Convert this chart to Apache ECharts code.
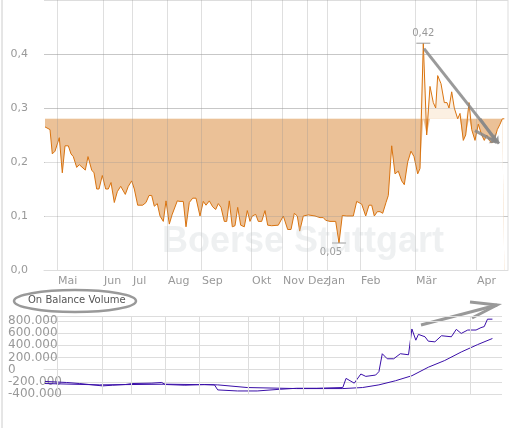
<!DOCTYPE html>
<html><head><meta charset="utf-8">
<script src="https://cdn.jsdelivr.net/npm/echarts@6/dist/echarts.min.js"></script>
<style>html,body{margin:0;padding:0;background:#fff}#chart{width:530px;height:428px}</style>
</head><body><div id="chart"></div>
<script>
// Handelstag-Position jedes Kurswerts
const days = [
  1,6,8.3,11,15.3,18.3,21,24.3,27,29.3,32.7,35.3,41.3,44,47.7,50,52.7,55,58.3,61.7,
  64.3,67,70.3,73.3,76.7,81.3,84.3,87.7,90.3,93.7,98.7,102,105,107.7,110.3,113.3,116,119.3,122,125.3,
  128,130,133.3,136,139.3,142,145.3,148.7,152,156,159.3,162,165.3,168.7,171.7,174.3,177,180.3,182.7,185.3,
  188.3,191,193.7,196.7,200.3,203.3,206,208.3,211.7,214.3,217.7,221,
  223.7,227.7,234.3,239.3,243.7,247,250.3,253.3,255.7,259.3,264.3,271,276,279.3,281.7,286,291.7,295,298.3,302.7,
  309.3,312.7,317.7,321.7,325,327.7,330.3,333.3,336,338.7,342,344.3,347.7,351,354.3,357.7,360.3,363.7,367,370,
  373.7,376,379.3,382.7,386,389.3,391.7,393.7,397,400.3,403,405,407.7,410.3,413.7,416,419.3,421.7,425,427.7,
  431,434.3,437.7,440.3,442.7,445.3,447.7,450.3,453.3,456,458.3,460.3
]
// Kurs
const prices = [
  .265,.26,.215,.22,.245,.18,.23,.23,.215,.21,.19,.195,.185,.21,.185,.18,.15,.15,.175,.15,
  .15,.162,.125,.145,.155,.14,.155,.165,.15,.12,.12,.125,.138,.138,.118,.123,.1,.09,.128,.085,
  .102,.102,.128,.127,.127,.08,.125,.133,.133,.1,.127,.12,.128,.117,.112,.123,.116,.09,.09,.128,
  .08,.082,.116,.083,.08,.11,.09,.1,.103,.09,.09,.11,
  .083,.082,.083,.1,.075,.075,.105,.1,.072,.1,.102,.1,.097,.097,.092,.09,.09,.05,.101,.1,
  .1,.127,.122,.1,.12,.12,.1,.108,.108,.105,.125,.138,.23,.178,.183,.165,.158,.2,.22,.21,
  .178,.188,.42,.25,.34,.31,.3,.36,.345,.31,.31,.3,.33,.3,.28,.29,.24,.25,.31,.26,
  .24,.27,.25,.24,.25,.24,.235,.24,.26,.27,.28,.28
]
const baseLevel = 0.28
const monthDays = [13, 59, 88, 123, 157, 207, 238, 263, 283, 316, 371, 432]
const monthNames = ['Mai','Jun','Jul','Aug','Sep','Okt','Nov','Dez','Jan','Feb','Mär','Apr']
// On Balance Volume [tag, wert]
const obv = [
  [1,-194000],[22.7,-211000],[36,-228000],[52.7,-256000],[59.3,-267000],[69.3,-256000],[82.7,-244000],[89.3,-228000],
  [109.3,-222000],[119.3,-211000],[122.7,-244000],[142.7,-256000],[162.7,-244000],[172.7,-250000],[176,-333000],[196,-350000],
  [216,-350000],[239.3,-322000],[256,-306000],[276,-306000],[302.7,-294000],[306,-144000],[314.3,-222000],[321,-72000],
  [326,-111000],[336,-89000],[339.3,-33000],[342.7,261000],[347.7,178000],[354.3,178000],[361,261000],[369.3,244000],
  [372.7,667000],[376.7,483000],[379.3,578000],[386,539000],[389.3,467000],[396,456000],[402.7,556000],[412.7,539000],
  [417.7,661000],[422.7,594000],[429.3,650000],[437.7,650000],[442.7,689000],[446,706000],[449.3,828000],[454.3,828000]
]
const obvAvg = [
  [1,-228000],[56,-250000],[122.7,-239000],[176,-250000],[206,-294000],[256,-311000],[302.7,-311000],[322.7,-294000],
  [339.3,-250000],[356,-183000],[372.7,-100000],[389.3,39000],[406,150000],[422.7,289000],[439.3,411000],[454.3,511000]
]
const yTicksTop = [0, 0.1, 0.2, 0.3, 0.4]

const pts = v => v.map((y, i) => [days[i], y])
const grey = '#999'
const font = 'DejaVu Sans'
const fmtNum = v => (v < 0 ? '-' : '') + String(Math.abs(v)).replace(/\B(?=(\d{3})+(?!\d))/g, '.')
const monthLines = monthDays.map(d => ({ xAxis: d }))
const gridLineStyle = { color: 'rgba(150,150,150,0.3)', width: 1, type: 'solid' }
const fillSeries = (data, color) => ({ type: 'line', data: pts(data), symbol: 'none', silent: true, z: 1,
  lineStyle: { width: 0 }, areaStyle: { color, opacity: 1 } })

const chart = echarts.init(document.getElementById('chart'))
chart.setOption({
  animation: false,
  grid: [
    { left: 44, right: 22, top: 0, bottom: 158 },
    { left: 44, right: 28, top: 316, bottom: 34 }
  ],
  xAxis: [
    { type: 'value', min: 0, max: 464, gridIndex: 0,
      axisLine: { lineStyle: { color: '#ddd' } }, axisTick: { show: false }, splitLine: { show: false },
      axisLabel: { customValues: monthDays, formatter: v => monthNames[monthDays.indexOf(v)] || '',
        color: grey, fontFamily: font, fontSize: 11, margin: 6, align: 'left', padding: [0, 0, 0, 1], hideOverlap: false } },
    { type: 'value', min: 0, max: 464, gridIndex: 1,
      axisLine: { lineStyle: { color: '#ddd' } }, axisTick: { show: false }, axisLabel: { show: false }, splitLine: { show: false } }
  ],
  yAxis: [
    { type: 'value', min: 0, max: 0.5, interval: 0.1, gridIndex: 0,
      axisLine: { show: false }, axisTick: { show: false },
      axisLabel: { color: grey, fontFamily: font, fontSize: 11, margin: 16,
        formatter: v => yTicksTop.some(t => Math.abs(t - v) < 1e-6) ? v.toFixed(1).replace('.', ',') : '' },
      splitLine: { lineStyle: { color: '#ddd' } } },
    { type: 'value', min: -400000, max: 880000, interval: 200000, gridIndex: 1,
      axisLine: { show: false }, axisTick: { show: false },
      axisLabel: { color: grey, fontFamily: font, fontSize: 12, margin: 36, align: 'left', formatter: fmtNum },
      splitLine: { lineStyle: { color: '#ddd' } } }
  ],
  series: [
    // Fläche: hell über, dunkel unter der Basislinie
    fillSeries(prices.map(v => Math.max(v, baseLevel)), '#fcf0e2'),
    fillSeries(prices.map(() => baseLevel), '#ebc197'),
    fillSeries(prices.map(v => Math.min(v, baseLevel)), '#ffffff'),
    { type: 'line', data: [], z: 3, silent: true,
      markLine: { silent: true, symbol: 'none', label: { show: false }, lineStyle: gridLineStyle,
        data: monthLines.concat(yTicksTop.slice(1).map(v => ({ yAxis: v }))) } },
    { type: 'line', data: pts(prices), symbol: 'none', z: 4, lineStyle: { color: '#d9730f', width: 1 },
      markPoint: {
        symbol: 'rect', symbolSize: [14, 1], itemStyle: { color: grey },
        label: { color: grey, fontFamily: font, fontSize: 10, formatter: p => p.value.toFixed(2).replace('.', ',') },
        data: [
          { type: 'max', valueDim: 'y', label: { position: 'top', distance: 4 } },
          { type: 'min', valueDim: 'y', label: { position: 'bottom', distance: 4, offset: [-8, 0] } }
        ]
      },
      markLine: {
        silent: true, symbol: ['none', 'arrow'], symbolSize: 7,
        lineStyle: { color: '#888', width: 3, type: 'solid', opacity: 0.85 }, label: { show: false },
        data: [
          [{ coord: [380, 0.41] }, { coord: [455, 0.234] }],
          [{ coord: [431, 0.258] }, { coord: [453, 0.236] }],
          [{ coord: [436, 0.28] }, { coord: [452, 0.238] }]
        ]
      } },
    { type: 'line', xAxisIndex: 1, yAxisIndex: 1, data: obv, symbol: 'none', lineStyle: { color: '#3a0fa8', width: 1 },
      markLine: { silent: true, symbol: 'none', label: { show: false }, lineStyle: { color: '#ddd', width: 1, type: 'solid' }, data: monthLines } },
    { type: 'line', xAxisIndex: 1, yAxisIndex: 1, data: obvAvg, symbol: 'none', lineStyle: { color: '#3a0fa8', width: 1 } }
  ],
  graphic: [
    { type: 'text', left: 162, top: 224, z: 100, silent: true,
      style: { text: 'Boerse Stuttgart', fill: 'rgba(200,205,210,0.3)', font: 'bold 36px "Liberation Sans"' } },
    { type: 'line', shape: { x1: 2, y1: 0, x2: 2, y2: 428 }, style: { stroke: '#ccc', lineWidth: 1 } },
    { type: 'line', shape: { x1: 508, y1: 0, x2: 508, y2: 270 }, style: { stroke: '#ddd', lineWidth: 1 } },
    { type: 'ellipse', shape: { cx: 75, cy: 301, rx: 61, ry: 11 }, style: { fill: 'none', stroke: '#999', lineWidth: 2.5 } },
    { type: 'text', left: 28, top: 295, style: { text: 'On Balance Volume', fill: '#555', font: '10px "DejaVu Sans"' } },
    { type: 'line', shape: { x1: 421, y1: 325, x2: 497, y2: 305 }, style: { stroke: '#999', lineWidth: 3 } },
    { type: 'polyline', shape: { points: [[470, 302], [497, 305], [472, 318]] }, style: { stroke: '#999', fill: 'none', lineWidth: 3 } }
  ]
})
window.addEventListener('resize', () => chart.resize())
</script></body></html>
